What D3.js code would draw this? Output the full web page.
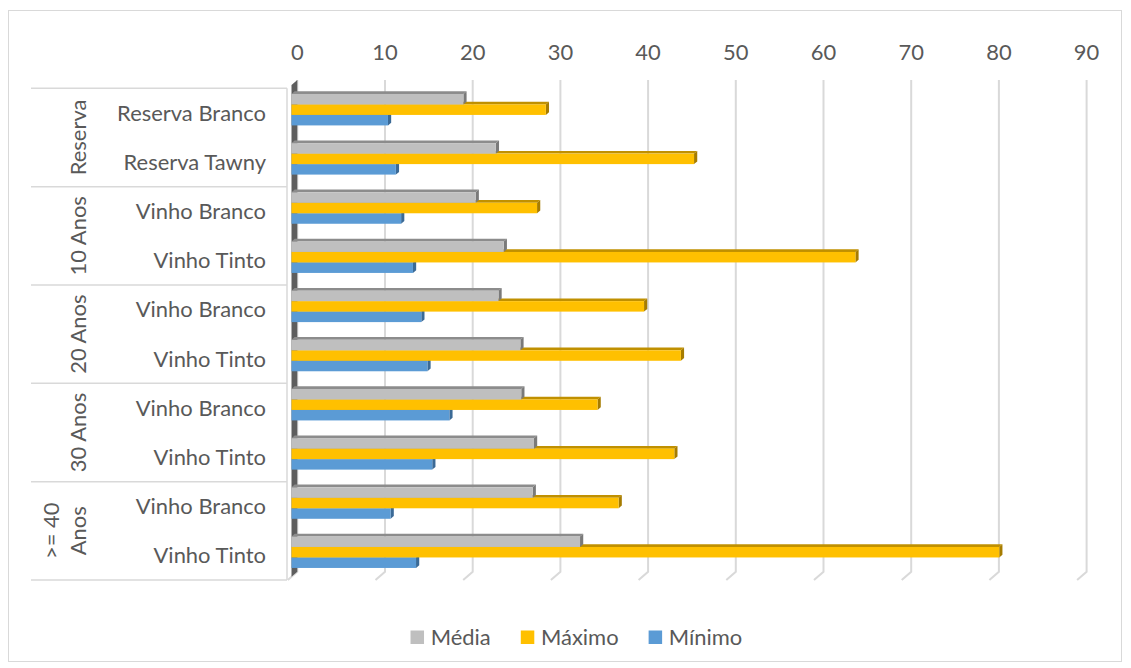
<!DOCTYPE html>
<html><head><meta charset="utf-8">
<script src="https://cdn.jsdelivr.net/npm/d3@7"></script>
<style>
body{margin:0;background:#fff}
text{font-family:Lato,"Open Sans","Noto Sans",sans-serif;fill:#595959}
</style></head>
<body><svg id="c" width="1131" height="668"></svg>
<script>
// ---- data ----
const groupOf = ["Reserva","Reserva","10 Anos","10 Anos","20 Anos","20 Anos","30 Anos","30 Anos",">= 40 Anos",">= 40 Anos"];
const categories = ["Reserva Branco","Reserva Tawny","Vinho Branco","Vinho Tinto","Vinho Branco","Vinho Tinto","Vinho Branco","Vinho Tinto","Vinho Branco","Vinho Tinto"];
const media  = [19.6, 23.3, 21.0, 24.2, 23.6, 26.1, 26.2, 27.65, 27.5, 32.9];
const maximo = [29.0, 45.9, 28.0, 64.3, 40.2, 44.4, 34.9, 43.65, 37.3, 80.7];
const minimo = [11.0, 11.9, 12.5, 13.85, 14.8, 15.5, 18.0, 16.05, 11.3, 14.2];
const seriesNames = ["Média","Máximo","Mínimo"];
const tickValues = [0,10,20,30,40,50,60,70,80,90];

const seriesValues = [media, maximo, minimo];
const colors = {
  "Média":  {front:"#BFBFBF", top:"#8C8C8C", side:"#7A7A7A"},
  "Máximo": {front:"#FFC000", top:"#C09000", side:"#A67C00"},
  "Mínimo": {front:"#5B9BD5", top:"#4A80B2", side:"#3B6A96"}
};

const svg = d3.select("#c");
svg.append("rect").attr("x",8.5).attr("y",10.5).attr("width",1113).attr("height",651)
  .attr("fill","#fff").attr("stroke","#D9D9D9").attr("stroke-width",1);

// font size fitted to reference label width
const probe = svg.append("text").style("font-size","100px").text("Reserva Branco");
const FS = 100*149/probe.node().getComputedTextLength();
probe.remove();

const n = categories.length;
const x = d3.scaleLinear().domain([0,90]).range([297.3,1086.6]);       // back plane
const y = d3.scaleBand().domain(d3.range(n)).range([80,571.7]);          // back plane
const FLOOR = {dx:-9.5, dy:8.3};
const BF = {dx:-5.8, dy:5.1};     // bar front face offset
const DEPTH = {dx:3.2, dy:-2.7};  // bar thickness
const bw = y.bandwidth();
const s = d3.scaleBand().domain(seriesNames).range([bw*0.18, bw*0.82]);

// gridlines
const g = svg.append("g");
g.selectAll("path.grid").data(tickValues).join("path").attr("class","grid")
  .attr("d", t => `M${x(t)},80V571.7L${x(t)+FLOOR.dx},${571.7+FLOOR.dy}`)
  .attr("fill","none").attr("stroke","#D9D9D9").attr("stroke-width",2);

// tick labels
svg.selectAll("text.tick").data(tickValues).join("text").attr("class","tick")
  .attr("x", t => x(t)).attr("y", 59.5).attr("text-anchor","middle")
  .style("font-size", FS+"px").text(t => t);

// side wall
const x0 = x(0), yT = y.range()[0], yB = y.range()[1];
svg.append("polygon")
  .attr("points", [[x0,yT],[x0,yB],[x0+BF.dx,yB+BF.dy],[x0+BF.dx,yT+BF.dy]].map(p=>p.join(",")).join(" "))
  .attr("fill","#5E5E5E");

// bars
const drawOrder = ["Mínimo","Máximo","Média"];
for (let i=0;i<n;i++){
  drawOrder.forEach(name=>{
    const v = seriesValues[seriesNames.indexOf(name)][i];
    const c = colors[name];
    const xa = x(0)+BF.dx, xb = x(v)+BF.dx;
    const y0 = y(i)+s(name)+BF.dy, h = s.bandwidth();
    const bar = svg.append("g");
    bar.append("polygon").attr("points",
      [[xa,y0],[xb,y0],[xb+DEPTH.dx,y0+DEPTH.dy],[xa+DEPTH.dx,y0+DEPTH.dy]].map(p=>p.join(",")).join(" "))
      .attr("fill",c.top);
    bar.append("polygon").attr("points",
      [[xb,y0],[xb+DEPTH.dx,y0+DEPTH.dy],[xb+DEPTH.dx,y0+h+DEPTH.dy],[xb,y0+h]].map(p=>p.join(",")).join(" "))
      .attr("fill",c.side);
    bar.append("rect").attr("x",xa).attr("y",y0).attr("width",xb-xa).attr("height",h).attr("fill",c.front);
  });
}

// category axis (front plane)
const yF = d3.scaleBand().domain(d3.range(n)).range([80+FLOOR.dy, 571.7+FLOOR.dy]);
const axisX = x(0)+FLOOR.dx-0.8;
svg.append("line").attr("x1",axisX).attr("x2",axisX).attr("y1",yF.range()[0]).attr("y2",yF.range()[1])
  .attr("stroke","#D9D9D9").attr("stroke-width",1.5);

// group boundaries
const groups = [];
groupOf.forEach((gname,i)=>{
  if(!groups.length || groups[groups.length-1].name!==gname) groups.push({name:gname,start:i,end:i});
  else groups[groups.length-1].end=i;
});
const bounds = groups.map(gr=>yF(gr.start)).concat([yF.range()[1]]);
svg.selectAll("line.sep").data(bounds).join("line").attr("class","sep")
  .attr("x1",31).attr("x2",axisX).attr("y1",d=>d).attr("y2",d=>d)
  .attr("stroke","#D9D9D9").attr("stroke-width",1.5);

// category labels
svg.selectAll("text.cat").data(categories).join("text").attr("class","cat")
  .attr("x",266).attr("y",(d,i)=>yF(i)+yF.bandwidth()/2).attr("dy","0.36em")
  .attr("text-anchor","end").style("font-size",FS+"px").text(d=>d);

// group labels (rotated, wrapped if too long)
groups.forEach(gr=>{
  const cy = (yF(gr.start)+yF(gr.end)+yF.bandwidth())/2;
  const span = yF(gr.end)+yF.bandwidth()-yF(gr.start);
  const t = svg.append("text").style("font-size",FS+"px").text(gr.name);
  let lines = [gr.name];
  if (t.node().getComputedTextLength() > span-6){
    const k = gr.name.lastIndexOf(" ");
    lines = [gr.name.slice(0,k), gr.name.slice(k+1)];
  }
  t.remove();
  lines.forEach((ln,j)=>{
    const cx = 78 - (lines.length-1-j)*27;
    svg.append("text").attr("transform",`translate(${cx},${cy}) rotate(-90)`)
      .attr("text-anchor","middle").attr("dy","0.36em").style("font-size",FS+"px").text(ln);
  });
});

// legend
const leg = svg.append("g");
const sq = 13.5, gap1 = 6.7, gap2 = 30;
const widths = seriesNames.map(nm=>{
  const t = svg.append("text").style("font-size",FS+"px").text(nm);
  const w = t.node().getComputedTextLength(); t.remove(); return w;
});
const total = d3.sum(widths)+seriesNames.length*(sq+gap1)+gap2*(seriesNames.length-1);
let lx = 576.4 - total/2;
seriesNames.forEach((nm,i)=>{
  leg.append("rect").attr("x",lx).attr("y",630.5).attr("width",sq).attr("height",sq).attr("fill",colors[nm].front);
  leg.append("text").attr("x",lx+sq+gap1).attr("y",637.3).attr("dy","0.36em").style("font-size",FS+"px").text(nm);
  lx += sq+gap1+widths[i]+gap2;
});
</script></body></html>
